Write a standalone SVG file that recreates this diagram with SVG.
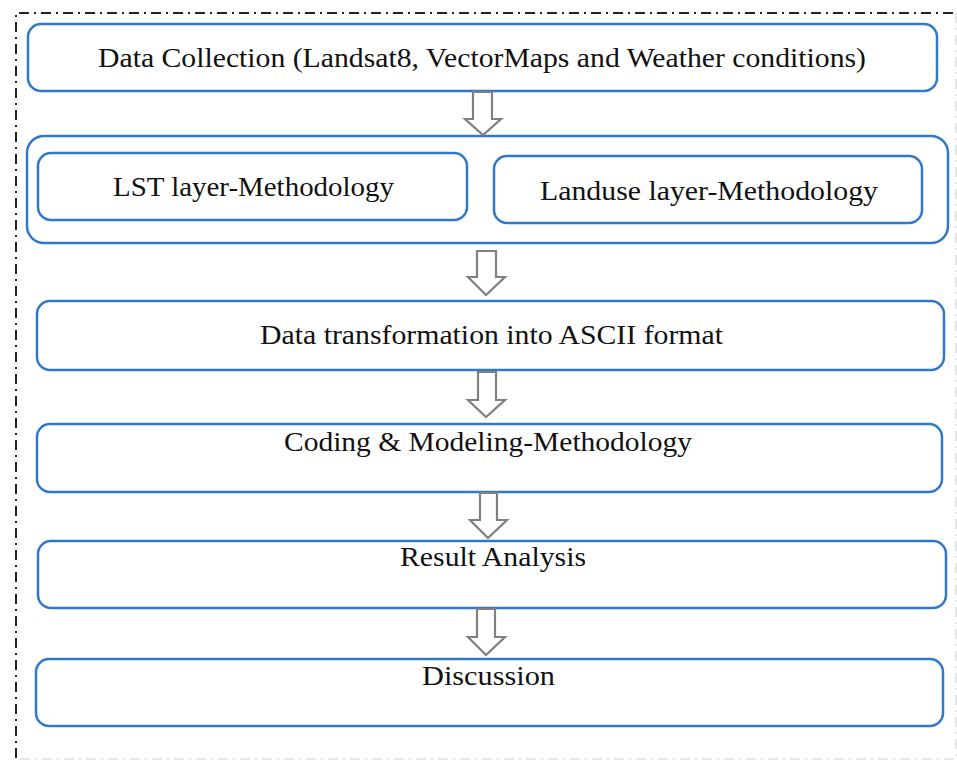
<svg xmlns="http://www.w3.org/2000/svg" width="957" height="760" viewBox="0 0 957 760">
<style>
.box{fill:#fff;stroke:#2f78cc;stroke-width:2.5}
.t{font-family:"Liberation Serif","DejaVu Serif",serif;font-size:28px;fill:#111}
.arr{fill:#fff;stroke:#808080;stroke-width:2.2;stroke-linejoin:miter}
.frame{fill:none;stroke:#222;stroke-width:2;stroke-dasharray:10,5,2,5}
.frame2{fill:none;stroke:#e6e6e6;stroke-width:2;stroke-dasharray:10,5,2,5}
</style>
<rect width="957" height="760" fill="#fff"/>
<path class="frame" d="M16,758 V13 H956"/>
<path class="frame2" d="M956,13 V759 H16"/>
<g id="n1"><rect class="box" x="28" y="24" width="909" height="67" rx="13"/><text class="t" x="98" y="67" textLength="768" lengthAdjust="spacingAndGlyphs">Data Collection (Landsat8, VectorMaps and Weather conditions)</text></g>
<g id="n2"><rect class="box" x="27" y="136" width="921" height="107" rx="17"/></g>
<g id="n2a"><rect class="box" x="38" y="153" width="429" height="67" rx="13"/><text class="t" x="113" y="196" textLength="281" lengthAdjust="spacingAndGlyphs">LST layer-Methodology</text></g>
<g id="n2b"><rect class="box" x="494" y="156" width="428" height="67" rx="13"/><text class="t" x="540" y="200" textLength="338" lengthAdjust="spacingAndGlyphs">Landuse layer-Methodology</text></g>
<g id="n3"><rect class="box" x="37" y="301" width="907" height="69" rx="13"/><text class="t" x="260" y="344" textLength="463" lengthAdjust="spacingAndGlyphs">Data transformation into ASCII format</text></g>
<g id="n4"><rect class="box" x="37" y="424" width="905" height="68" rx="13"/><text class="t" x="284" y="451" textLength="408" lengthAdjust="spacingAndGlyphs">Coding &amp; Modeling-Methodology</text></g>
<g id="n5"><rect class="box" x="38" y="541" width="908" height="67" rx="13"/><text class="t" x="400" y="566" textLength="186" lengthAdjust="spacingAndGlyphs">Result Analysis</text></g>
<g id="n6"><rect class="box" x="36" y="659" width="907" height="67" rx="13"/><text class="t" x="422" y="685" textLength="133" lengthAdjust="spacingAndGlyphs">Discussion</text></g>
<g id="connectors">
<path class="arr" d="M473,92 H492 V119 H501 L483,135 L465,119 H473 Z"/>
<path class="arr" d="M477,251 H496 V277 H505 L486,295 L468,277 H477 Z"/>
<path class="arr" d="M478,372 H496 V400 H505 L486,417 L468,400 H478 Z"/>
<path class="arr" d="M480,493 H497 V520 H507 L488,538 L470,520 H480 Z"/>
<path class="arr" d="M477,609 H495 V637 H505 L486,655 L468,637 H477 Z"/>
</g>
</svg>
